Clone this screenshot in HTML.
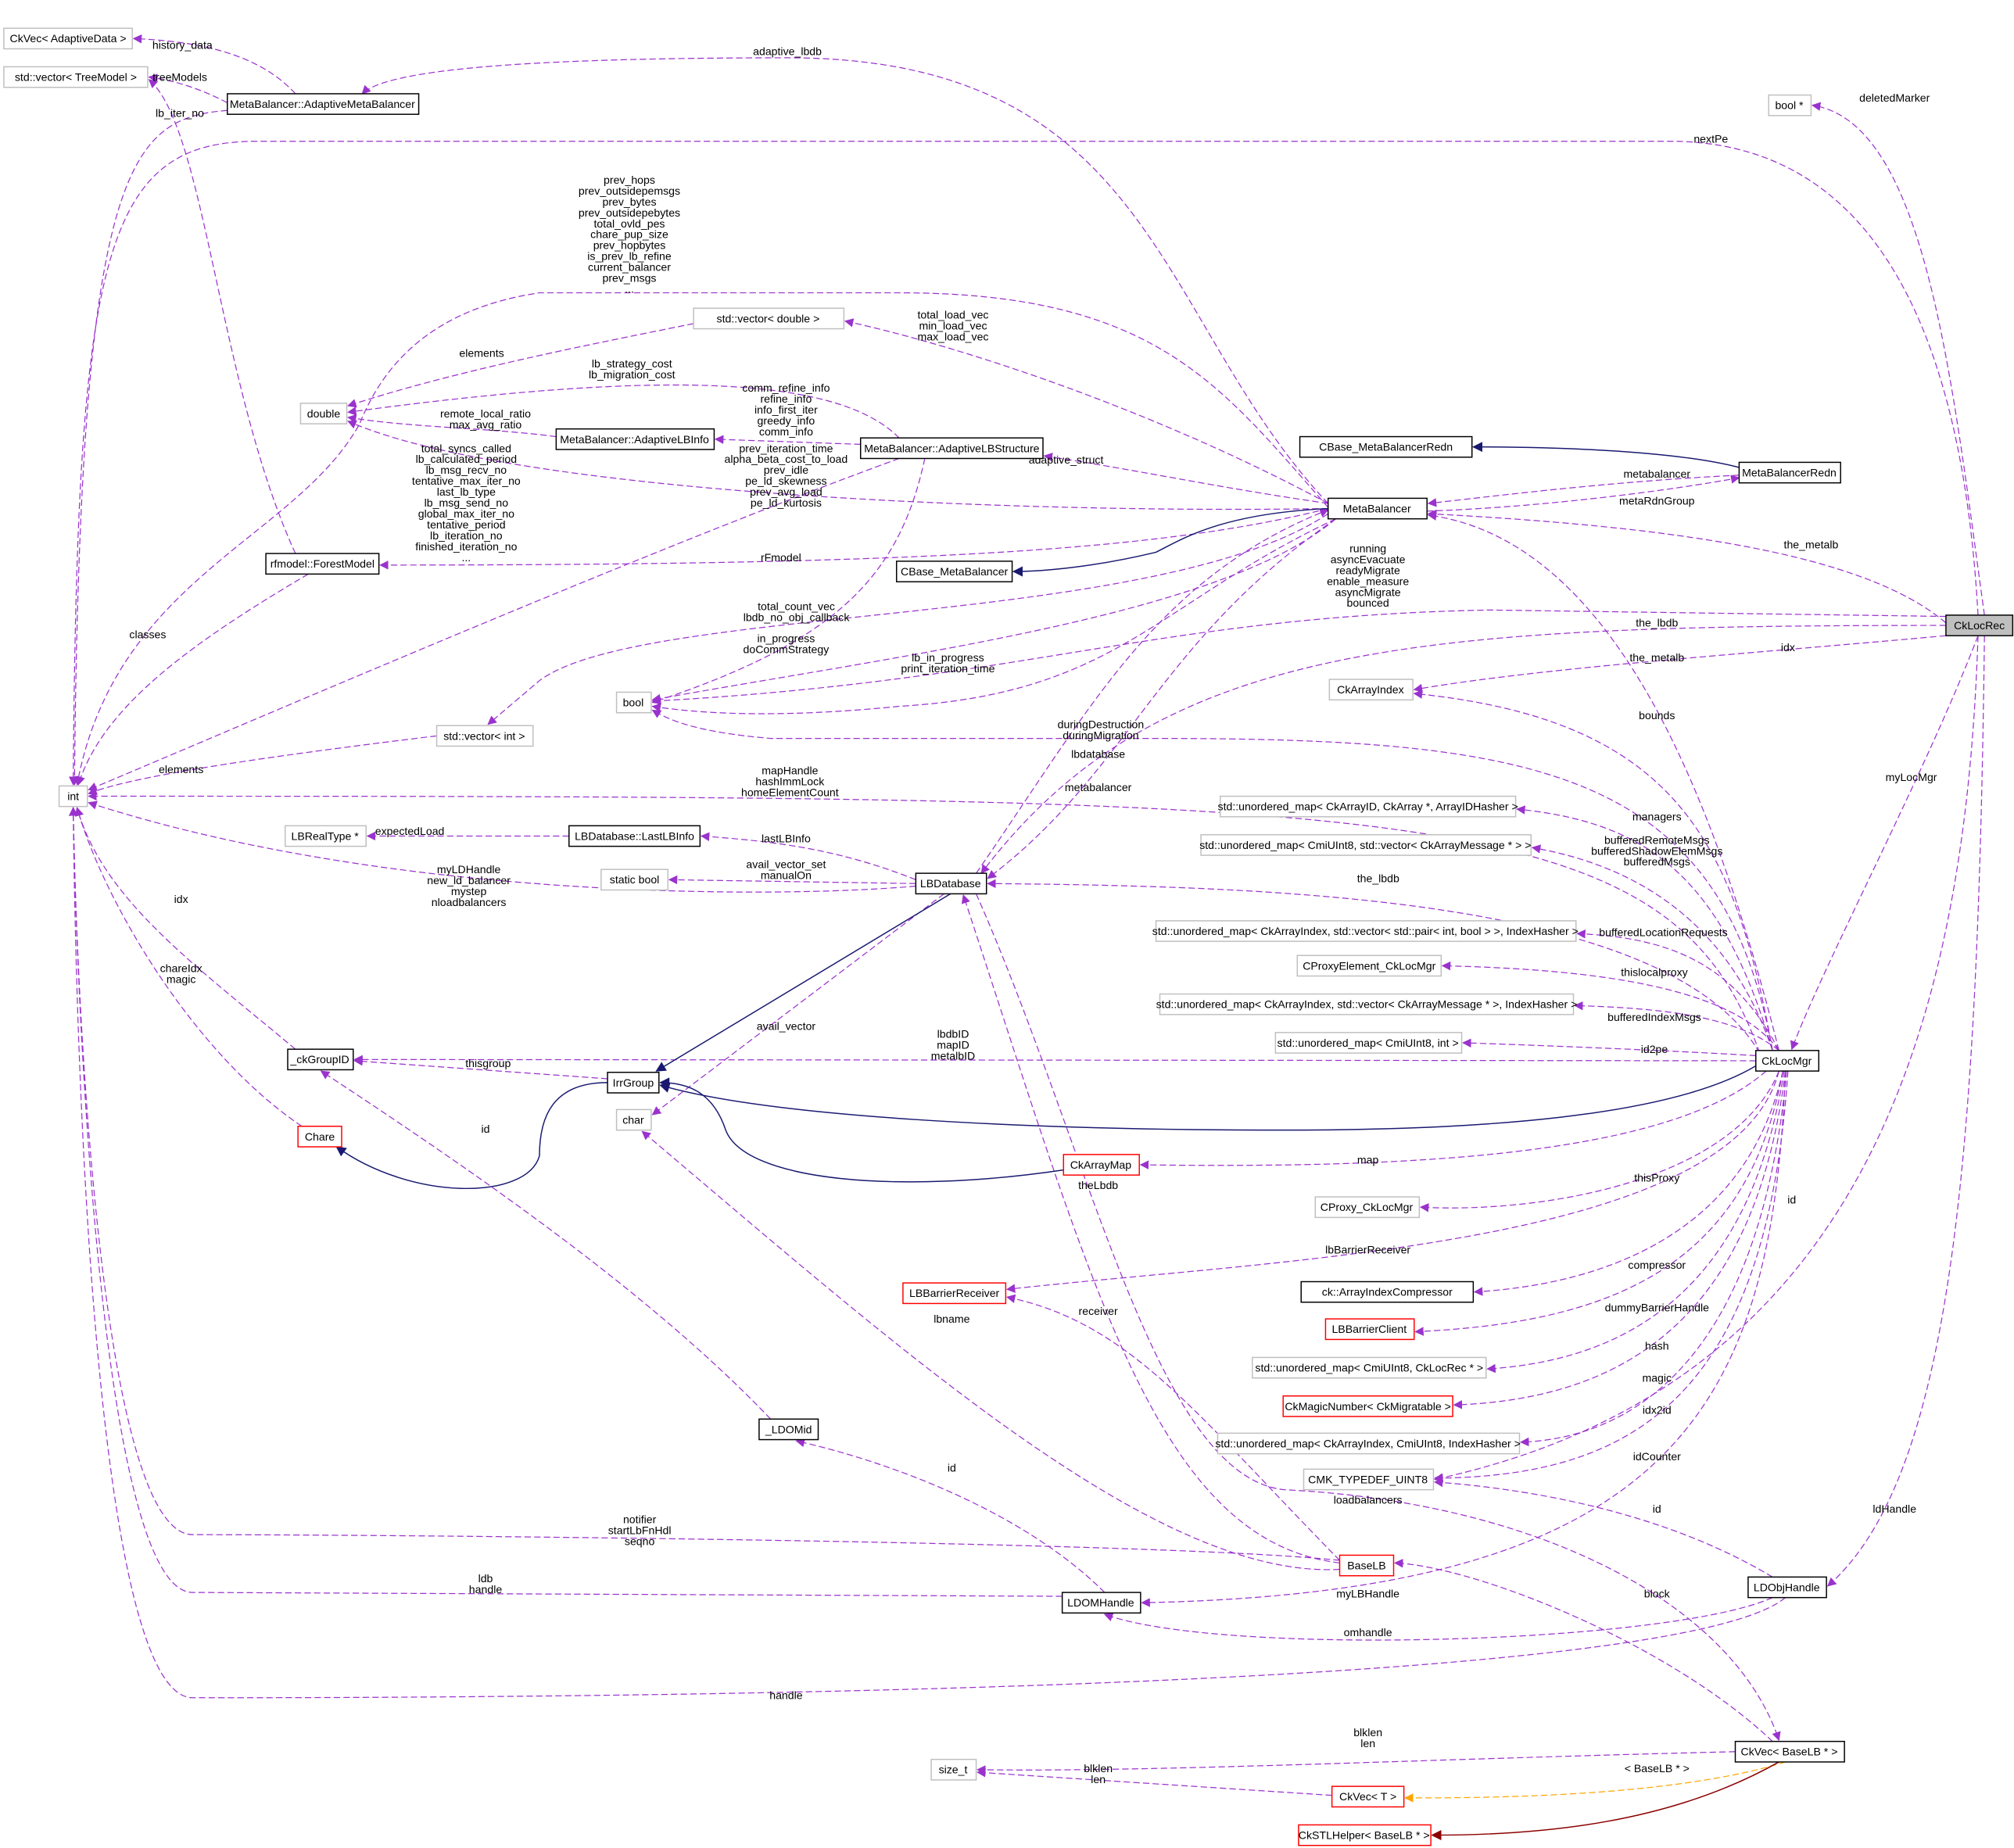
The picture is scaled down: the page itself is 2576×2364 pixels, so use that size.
<!DOCTYPE html>
<html><head><meta charset="utf-8"><style>
html,body{margin:0;padding:0;background:#fff;}
svg{display:block;}
text{font-family:"Liberation Sans Narrow","Liberation Sans",sans-serif;font-size:8.6px;fill:#000;}
.n text{text-anchor:middle;}
.l{text-anchor:middle;}
.e{fill:none;stroke:#9a32cd;stroke-width:0.75;stroke-dasharray:5,2.5;}
.s{fill:none;stroke:#191970;stroke-width:0.9;}
rect{stroke-width:0.9;}
.g{fill:#fff;stroke:#bfbfbf;}
.b{fill:#fff;stroke:#000;}
.r{fill:#fff;stroke:#ff0000;}
</style></head><body>
<svg width="2576" height="2364" viewBox="0 0 1568 1439" preserveAspectRatio="none" xmlns="http://www.w3.org/2000/svg">
<defs>
<marker id="p" viewBox="0 0 10 10" refX="9" refY="5" markerWidth="7" markerHeight="7" orient="auto-start-reverse" markerUnits="userSpaceOnUse"><path d="M0,0 L10,5 L0,10 z" fill="#9a32cd"/></marker>
<marker id="nv" viewBox="0 0 10 10" refX="9" refY="5" markerWidth="8" markerHeight="8" orient="auto" markerUnits="userSpaceOnUse"><path d="M0,0 L10,5 L0,10 z" fill="#191970"/></marker>
<marker id="or" viewBox="0 0 10 10" refX="9" refY="5" markerWidth="7" markerHeight="7" orient="auto" markerUnits="userSpaceOnUse"><path d="M0,0 L10,5 L0,10 z" fill="#ffa500"/></marker>
<marker id="dr" viewBox="0 0 10 10" refX="9" refY="5" markerWidth="8" markerHeight="8" orient="auto" markerUnits="userSpaceOnUse"><path d="M0,0 L10,5 L0,10 z" fill="#8b0000"/></marker>
</defs>

<!-- edges -->
<g marker-end="url(#p)">
<path class="e" d="M230,73 C200,40 150,32 104,30"/>
<path class="e" d="M177,80 C150,66 130,62 116,60"/>
<path class="e" d="M177,86 C100,92 62,130 58,611"/>
<path class="e" d="M1034,392 C900,250 900,45 613,45 C400,45 300,55 282,73"/>
<path class="e" d="M1540,479 C1530,300 1480,110 1300,110 L200,110 C80,110 60,200 57,611"/>
<path class="e" d="M1545,479 C1520,300 1500,95 1411,82"/>
<path class="e" d="M1034,395 C950,300 900,228 700,228 L420,228 C340,240 300,280 280,330 C230,420 90,450 60,611"/>
<path class="e" d="M1034,392 C900,320 750,270 658,250"/>
<path class="e" d="M540,252 C450,270 350,290 271,316"/>
<path class="e" d="M700,341 C650,290 500,290 271,321"/>
<path class="e" d="M433,340 C380,333 320,333 271,325"/>
<path class="e" d="M670,346 L557,342"/>
<path class="e" d="M1034,396 C800,400 400,385 271,328"/>
<path class="e" d="M1034,392 C950,380 880,365 813,355"/>
<path class="e" d="M700,357 C500,430 200,560 69,615"/>
<path class="e" d="M1034,396 C900,430 700,440 296,440"/>
<path class="e" d="M1354,370 C1250,375 1150,388 1112,392"/>
<path class="e" d="M1111,398 C1200,395 1300,382 1354,372"/>
<path class="e" d="M1515,485 C1450,430 1300,410 1112,400"/>
<path class="e" d="M230,431 C170,300 160,100 116,62"/>
<path class="e" d="M240,447 C150,500 80,550 61,611"/>
<path class="e" d="M1515,480 L1160,475 C900,480 800,530 508,546"/>
<path class="e" d="M1515,487 C1100,487 900,500 764,680"/>
<path class="e" d="M1515,495 C1350,510 1200,520 1101,537"/>
<path class="e" d="M1040,404 C950,480 700,510 508,545"/>
<path class="e" d="M1040,404 C900,470 870,540 700,550 C600,560 540,555 508,550"/>
<path class="e" d="M720,357 C700,450 650,500 508,547"/>
<path class="e" d="M1034,400 C900,490 500,470 420,530 L380,564"/>
<path class="e" d="M1540,495 C1500,600 1420,750 1395,817"/>
<path class="e" d="M1540,495 C1530,800 1450,1080 1117,1152"/>
<path class="e" d="M1545,495 C1540,900 1520,1150 1423,1235"/>
<path class="e" d="M1385,818 C1330,600 1250,420 1112,401"/>
<path class="e" d="M1380,818 C1350,650 1300,560 1101,540"/>
<path class="e" d="M1380,818 C1340,600 1200,575 900,575 L600,575 C540,570 520,560 508,553"/>
<path class="e" d="M1370,820 C1300,620 1100,620 69,620"/>
<path class="e" d="M1380,818 C1340,680 1280,640 1181,630"/>
<path class="e" d="M1380,818 C1340,700 1250,670 1193,660"/>
<path class="e" d="M1370,820 C1300,700 1000,690 769,688"/>
<path class="e" d="M1385,818 C1350,750 1300,730 1228,727"/>
<path class="e" d="M1385,818 C1350,770 1250,755 1123,752"/>
<path class="e" d="M1385,818 C1350,790 1290,785 1226,783"/>
<path class="e" d="M1367,822 C1300,818 1200,814 1139,812"/>
<path class="e" d="M1367,826 L276,825"/>
<path class="e" d="M473,840 L276,826"/>
<path class="e" d="M1375,834 C1300,900 1100,910 888,907"/>
<path class="e" d="M1385,834 C1350,920 1200,945 1106,940"/>
<path class="e" d="M1385,834 C1350,970 1000,980 784,1004"/>
<path class="e" d="M1388,834 C1360,960 1250,1000 1148,1006"/>
<path class="e" d="M1388,834 C1360,990 1250,1030 1102,1037"/>
<path class="e" d="M1389,834 C1360,1020 1250,1060 1158,1066"/>
<path class="e" d="M1390,834 C1365,1040 1250,1090 1132,1094"/>
<path class="e" d="M1391,834 C1370,1060 1270,1120 1184,1123"/>
<path class="e" d="M1392,834 C1375,1090 1270,1150 1117,1151"/>
<path class="e" d="M1390,834 C1380,1100 1300,1240 889,1248"/>
<path class="e" d="M760,696 C850,900 900,1150 1000,1160 C1200,1170 1350,1250 1385,1355"/>
<path class="e" d="M735,696 L508,868"/>
<path class="e" d="M713,685 C650,660 600,655 546,651"/>
<path class="e" d="M713,688 L521,685"/>
<path class="e" d="M713,690 C600,700 300,700 69,625"/>
<path class="e" d="M443,651 L286,651"/>
<path class="e" d="M1040,404 C900,500 880,600 769,684"/>
<path class="e" d="M760,680 C850,550 900,450 1034,397"/>
<path class="e" d="M1043,1217 C900,1200 850,1000 750,697"/>
<path class="e" d="M1043,1222 C900,1230 700,1050 500,881"/>
<path class="e" d="M1043,1215 C930,1100 880,1030 784,1010"/>
<path class="e" d="M1043,1215 C900,1200 300,1195 150,1195 C80,1195 60,800 57,629"/>
<path class="e" d="M827,1243 L150,1240 C80,1240 60,800 57,629"/>
<path class="e" d="M860,1240 C800,1180 700,1140 620,1122"/>
<path class="e" d="M600,1105 C500,1000 350,900 250,834"/>
<path class="e" d="M230,817 C150,750 80,700 60,629"/>
<path class="e" d="M235,877 C150,820 80,700 60,629"/>
<path class="e" d="M340,573 C200,590 100,605 69,618"/>
<path class="e" d="M1380,1244 C1300,1280 950,1290 860,1257"/>
<path class="e" d="M1380,1228 C1300,1180 1200,1160 1117,1154"/>
<path class="e" d="M1390,1244 C1300,1320 400,1322 150,1322 C80,1322 60,900 57,629"/>
<path class="e" d="M1380,1356 C1300,1280 1150,1220 1086,1217"/>
<path class="e" d="M1351,1364 C1100,1370 900,1380 761,1378"/>
<path class="e" d="M1037,1398 L761,1380"/>
</g>
<path class="e" style="stroke:#ffa500" marker-end="url(#or)" d="M1390,1372 C1300,1400 1150,1400 1094,1400"/>
<path class="s" style="stroke:#8b0000" marker-end="url(#dr)" d="M1385,1372 C1300,1420 1200,1429 1115,1429"/>
<path class="s" marker-end="url(#nv)" d="M1034,396 C950,400 920,420 900,430 C850,442 810,445 789,445"/>
<path class="s" marker-end="url(#nv)" d="M1354,364 C1300,350 1200,348 1147,348"/>
<path class="s" marker-end="url(#nv)" d="M1367,830 C1300,870 1150,880 1000,880 C800,880 600,870 514,845"/>
<path class="s" marker-end="url(#nv)" d="M828,911 C700,930 580,920 565,880 C555,850 535,843 514,843"/>
<path class="s" marker-end="url(#nv)" d="M473,843 C430,843 420,870 420,900 C410,935 320,935 262,893"/>
<path class="s" marker-end="url(#nv)" d="M740,696 L511,834"/>

<!-- edge labels -->
<g class="l">
<text x="142" y="38" class="l">history_data</text>
<text x="140" y="63" class="l">treeModels</text>
<text x="140" y="91" class="l">lb_iter_no</text>
<text x="613" y="43" class="l">adaptive_lbdb</text>
<text x="1332" y="111" class="l">nextPe</text>
<text x="1475" y="79" class="l">deletedMarker</text>
<text x="490" y="143" class="l"><tspan x="490">prev_hops</tspan><tspan x="490" dy="8.5">prev_outsidepemsgs</tspan><tspan x="490" dy="8.5">prev_bytes</tspan><tspan x="490" dy="8.5">prev_outsidepebytes</tspan><tspan x="490" dy="8.5">total_ovld_pes</tspan><tspan x="490" dy="8.5">chare_pup_size</tspan><tspan x="490" dy="8.5">prev_hopbytes</tspan><tspan x="490" dy="8.5">is_prev_lb_refine</tspan><tspan x="490" dy="8.5">current_balancer</tspan><tspan x="490" dy="8.5">prev_msgs</tspan><tspan x="490" dy="8.5">...</tspan></text>
<text x="742" y="248" class="l"><tspan x="742">total_load_vec</tspan><tspan x="742" dy="8.5">min_load_vec</tspan><tspan x="742" dy="8.5">max_load_vec</tspan></text>
<text x="375" y="278" class="l">elements</text>
<text x="492" y="286" class="l"><tspan x="492">lb_strategy_cost</tspan><tspan x="492" dy="8.5">lb_migration_cost</tspan></text>
<text x="378" y="325" class="l"><tspan x="378">remote_local_ratio</tspan><tspan x="378" dy="8.5">max_avg_ratio</tspan></text>
<text x="612" y="305" class="l"><tspan x="612">comm_refine_info</tspan><tspan x="612" dy="8.5">refine_info</tspan><tspan x="612" dy="8.5">info_first_iter</tspan><tspan x="612" dy="8.5">greedy_info</tspan><tspan x="612" dy="8.5">comm_info</tspan></text>
<text x="612" y="352" class="l"><tspan x="612">prev_iteration_time</tspan><tspan x="612" dy="8.5">alpha_beta_cost_to_load</tspan><tspan x="612" dy="8.5">prev_idle</tspan><tspan x="612" dy="8.5">pe_ld_skewness</tspan><tspan x="612" dy="8.5">prev_avg_load</tspan><tspan x="612" dy="8.5">pe_ld_kurtosis</tspan></text>
<text x="363" y="352" class="l"><tspan x="363">total_syncs_called</tspan><tspan x="363" dy="8.5">lb_calculated_period</tspan><tspan x="363" dy="8.5">lb_msg_recv_no</tspan><tspan x="363" dy="8.5">tentative_max_iter_no</tspan><tspan x="363" dy="8.5">last_lb_type</tspan><tspan x="363" dy="8.5">lb_msg_send_no</tspan><tspan x="363" dy="8.5">global_max_iter_no</tspan><tspan x="363" dy="8.5">tentative_period</tspan><tspan x="363" dy="8.5">lb_iteration_no</tspan><tspan x="363" dy="8.5">finished_iteration_no</tspan><tspan x="363" dy="8.5">...</tspan></text>
<text x="830" y="361" class="l">adaptive_struct</text>
<text x="608" y="437" class="l">rFmodel</text>
<text x="1290" y="372" class="l">metabalancer</text>
<text x="1290" y="393" class="l">metaRdnGroup</text>
<text x="1410" y="427" class="l">the_metalb</text>
<text x="115" y="497" class="l">classes</text>
<text x="1065" y="430" class="l"><tspan x="1065">running</tspan><tspan x="1065" dy="8.5">asyncEvacuate</tspan><tspan x="1065" dy="8.5">readyMigrate</tspan><tspan x="1065" dy="8.5">enable_measure</tspan><tspan x="1065" dy="8.5">asyncMigrate</tspan><tspan x="1065" dy="8.5">bounced</tspan></text>
<text x="1290" y="488" class="l">the_lbdb</text>
<text x="1392" y="507" class="l">idx</text>
<text x="620" y="475" class="l"><tspan x="620">total_count_vec</tspan><tspan x="620" dy="8.5">lbdb_no_obj_callback</tspan></text>
<text x="612" y="500" class="l"><tspan x="612">in_progress</tspan><tspan x="612" dy="8.5">doCommStrategy</tspan></text>
<text x="738" y="515" class="l"><tspan x="738">lb_in_progress</tspan><tspan x="738" dy="8.5">print_iteration_time</tspan></text>
<text x="1290" y="515" class="l">the_metalb</text>
<text x="1488" y="608" class="l">myLocMgr</text>
<text x="1290" y="560" class="l">bounds</text>
<text x="857" y="567" class="l"><tspan x="857">duringDestruction</tspan><tspan x="857" dy="8.5">duringMigration</tspan></text>
<text x="855" y="590" class="l">lbdatabase</text>
<text x="141" y="602" class="l">elements</text>
<text x="615" y="603" class="l"><tspan x="615">mapHandle</tspan><tspan x="615" dy="8.5">hashImmLock</tspan><tspan x="615" dy="8.5">homeElementCount</tspan></text>
<text x="855" y="616" class="l">metabalancer</text>
<text x="1290" y="639" class="l">managers</text>
<text x="1290" y="657" class="l"><tspan x="1290">bufferedRemoteMsgs</tspan><tspan x="1290" dy="8.5">bufferedShadowElemMsgs</tspan><tspan x="1290" dy="8.5">bufferedMsgs</tspan></text>
<text x="612" y="656" class="l">lastLBInfo</text>
<text x="319" y="650" class="l">expectedLoad</text>
<text x="612" y="676" class="l"><tspan x="612">avail_vector_set</tspan><tspan x="612" dy="8.5">manualOn</tspan></text>
<text x="365" y="680" class="l"><tspan x="365">myLDHandle</tspan><tspan x="365" dy="8.5">new_ld_balancer</tspan><tspan x="365" dy="8.5">mystep</tspan><tspan x="365" dy="8.5">nloadbalancers</tspan></text>
<text x="1073" y="687" class="l">the_lbdb</text>
<text x="141" y="703" class="l">idx</text>
<text x="1295" y="729" class="l">bufferedLocationRequests</text>
<text x="1288" y="760" class="l">thislocalproxy</text>
<text x="141" y="757" class="l"><tspan x="141">chareIdx</tspan><tspan x="141" dy="8.5">magic</tspan></text>
<text x="1288" y="795" class="l">bufferedIndexMsgs</text>
<text x="612" y="802" class="l">avail_vector</text>
<text x="742" y="808" class="l"><tspan x="742">lbdbID</tspan><tspan x="742" dy="8.5">mapID</tspan><tspan x="742" dy="8.5">metalbID</tspan></text>
<text x="1288" y="820" class="l">id2pe</text>
<text x="380" y="831" class="l">thisgroup</text>
<text x="378" y="882" class="l">id</text>
<text x="1065" y="906" class="l">map</text>
<text x="1290" y="920" class="l">thisProxy</text>
<text x="855" y="926" class="l">theLbdb</text>
<text x="1395" y="937" class="l">id</text>
<text x="1065" y="976" class="l">lbBarrierReceiver</text>
<text x="1290" y="988" class="l">compressor</text>
<text x="1290" y="1021" class="l">dummyBarrierHandle</text>
<text x="855" y="1024" class="l">receiver</text>
<text x="741" y="1030" class="l">lbname</text>
<text x="1290" y="1051" class="l">hash</text>
<text x="1290" y="1076" class="l">magic</text>
<text x="1290" y="1101" class="l">idx2id</text>
<text x="1290" y="1137" class="l">idCounter</text>
<text x="741" y="1146" class="l">id</text>
<text x="1065" y="1171" class="l">loadbalancers</text>
<text x="1290" y="1178" class="l">id</text>
<text x="1475" y="1178" class="l">ldHandle</text>
<text x="498" y="1186" class="l"><tspan x="498">notifier</tspan><tspan x="498" dy="8.5">startLbFnHdl</tspan><tspan x="498" dy="8.5">seqno</tspan></text>
<text x="378" y="1232" class="l"><tspan x="378">ldb</tspan><tspan x="378" dy="8.5">handle</tspan></text>
<text x="1065" y="1244" class="l">myLBHandle</text>
<text x="1290" y="1244" class="l">block</text>
<text x="1065" y="1274" class="l">omhandle</text>
<text x="612" y="1323" class="l">handle</text>
<text x="1065" y="1352" class="l"><tspan x="1065">blklen</tspan><tspan x="1065" dy="8.5">len</tspan></text>
<text x="855" y="1380" class="l"><tspan x="855">blklen</tspan><tspan x="855" dy="8.5">len</tspan></text>
<text x="1290" y="1380" class="l">&lt; BaseLB * &gt;</text>
</g>

<!-- nodes -->
<g class="n">
<rect class="g" x="3" y="22" width="100" height="16"/><text x="53" y="33">CkVec&lt; AdaptiveData &gt;</text>
<rect class="g" x="3" y="52" width="112" height="16"/><text x="59" y="63">std::vector&lt; TreeModel &gt;</text>
<rect class="b" x="177" y="73" width="149" height="16"/><text x="251" y="84">MetaBalancer::AdaptiveMetaBalancer</text>
<rect class="g" x="1377" y="74" width="33" height="16"/><text x="1393" y="85">bool *</text>
<rect class="g" x="540" y="240" width="117" height="16"/><text x="598" y="251">std::vector&lt; double &gt;</text>
<rect class="g" x="234" y="314" width="36" height="16"/><text x="252" y="325">double</text>
<rect class="b" x="433" y="334" width="123" height="16"/><text x="494" y="345">MetaBalancer::AdaptiveLBInfo</text>
<rect class="b" x="670" y="341" width="142" height="16"/><text x="741" y="352">MetaBalancer::AdaptiveLBStructure</text>
<rect class="b" x="1012" y="340" width="134" height="16"/><text x="1079" y="351">CBase_MetaBalancerRedn</text>
<rect class="b" x="1354" y="360" width="79" height="16"/><text x="1393" y="371">MetaBalancerRedn</text>
<rect class="b" x="1034" y="388" width="77" height="16"/><text x="1072" y="399">MetaBalancer</text>
<rect class="b" x="207" y="431" width="88" height="16"/><text x="251" y="442">rfmodel::ForestModel</text>
<rect class="b" x="698" y="437" width="90" height="16"/><text x="743" y="448">CBase_MetaBalancer</text>
<rect x="1515" y="479" width="52" height="16" fill="#bfbfbf" stroke="#000"/><text x="1541" y="490">CkLocRec</text>
<rect class="g" x="1035" y="529" width="65" height="16"/><text x="1067" y="540">CkArrayIndex</text>
<rect class="g" x="480" y="539" width="27" height="16"/><text x="493" y="550">bool</text>
<rect class="g" x="340" y="565" width="75" height="16"/><text x="377" y="576">std::vector&lt; int &gt;</text>
<rect class="g" x="46" y="612" width="22" height="16"/><text x="57" y="623">int</text>
<rect class="g" x="950" y="620" width="230" height="16"/><text x="1065" y="631">std::unordered_map&lt; CkArrayID, CkArray *, ArrayIDHasher &gt;</text>
<rect class="g" x="935" y="650" width="257" height="16"/><text x="1063" y="661">std::unordered_map&lt; CmiUInt8, std::vector&lt; CkArrayMessage * &gt; &gt;</text>
<rect class="g" x="222" y="643" width="63" height="16"/><text x="253" y="654">LBRealType *</text>
<rect class="b" x="443" y="643" width="102" height="16"/><text x="494" y="654">LBDatabase::LastLBInfo</text>
<rect class="g" x="468" y="677" width="52" height="16"/><text x="494" y="688">static bool</text>
<rect class="b" x="713" y="680" width="55" height="16"/><text x="740" y="691">LBDatabase</text>
<rect class="g" x="900" y="717" width="327" height="16"/><text x="1063" y="728">std::unordered_map&lt; CkArrayIndex, std::vector&lt; std::pair&lt; int, bool &gt; &gt;, IndexHasher &gt;</text>
<rect class="g" x="1010" y="744" width="112" height="16"/><text x="1066" y="755">CProxyElement_CkLocMgr</text>
<rect class="g" x="903" y="774" width="322" height="16"/><text x="1064" y="785">std::unordered_map&lt; CkArrayIndex, std::vector&lt; CkArrayMessage * &gt;, IndexHasher &gt;</text>
<rect class="g" x="993" y="804" width="145" height="16"/><text x="1065" y="815">std::unordered_map&lt; CmiUInt8, int &gt;</text>
<rect class="b" x="224" y="817" width="51" height="16"/><text x="249" y="828">_ckGroupID</text>
<rect class="b" x="473" y="835" width="40" height="16"/><text x="493" y="846">IrrGroup</text>
<rect class="b" x="1367" y="818" width="49" height="16"/><text x="1391" y="829">CkLocMgr</text>
<rect class="g" x="480" y="864" width="27" height="16"/><text x="493" y="875">char</text>
<rect class="r" x="232" y="877" width="34" height="16"/><text x="249" y="888">Chare</text>
<rect class="r" x="828" y="899" width="59" height="16"/><text x="857" y="910">CkArrayMap</text>
<rect class="g" x="1024" y="932" width="81" height="16"/><text x="1064" y="943">CProxy_CkLocMgr</text>
<rect class="r" x="703" y="999" width="80" height="16"/><text x="743" y="1010">LBBarrierReceiver</text>
<rect class="b" x="1013" y="998" width="134" height="16"/><text x="1080" y="1009">ck::ArrayIndexCompressor</text>
<rect class="r" x="1032" y="1027" width="69" height="16"/><text x="1066" y="1038">LBBarrierClient</text>
<rect class="g" x="975" y="1057" width="182" height="16"/><text x="1066" y="1068">std::unordered_map&lt; CmiUInt8, CkLocRec * &gt;</text>
<rect class="r" x="999" y="1087" width="132" height="16"/><text x="1065" y="1098">CkMagicNumber&lt; CkMigratable &gt;</text>
<rect class="b" x="591" y="1105" width="46" height="16"/><text x="614" y="1116">_LDOMid</text>
<rect class="g" x="948" y="1116" width="235" height="16"/><text x="1065" y="1127">std::unordered_map&lt; CkArrayIndex, CmiUInt8, IndexHasher &gt;</text>
<rect class="g" x="1015" y="1144" width="101" height="16"/><text x="1065" y="1155">CMK_TYPEDEF_UINT8</text>
<rect class="r" x="1043" y="1211" width="42" height="16"/><text x="1064" y="1222">BaseLB</text>
<rect class="b" x="1361" y="1228" width="61" height="16"/><text x="1391" y="1239">LDObjHandle</text>
<rect class="b" x="827" y="1240" width="61" height="16"/><text x="857" y="1251">LDOMHandle</text>
<rect class="b" x="1351" y="1356" width="85" height="16"/><text x="1393" y="1367">CkVec&lt; BaseLB * &gt;</text>
<rect class="g" x="725" y="1370" width="35" height="16"/><text x="742" y="1381">size_t</text>
<rect class="r" x="1037" y="1391" width="56" height="16"/><text x="1065" y="1402">CkVec&lt; T &gt;</text>
<rect class="r" x="1011" y="1421" width="103" height="16"/><text x="1062" y="1432">CkSTLHelper&lt; BaseLB * &gt;</text>
</g>
</svg>
</body></html>
